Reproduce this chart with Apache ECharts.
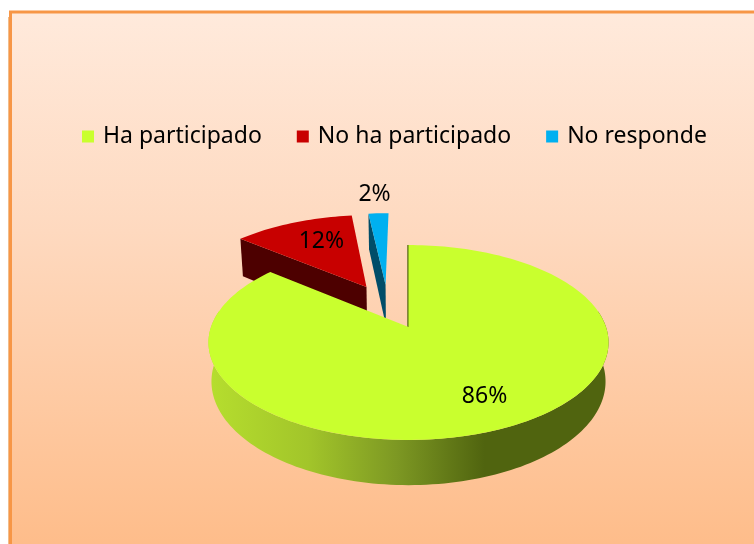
<!DOCTYPE html>
<html>
<head>
<meta charset="utf-8">
<style>html,body{margin:0;padding:0;background:#fff}#c{width:754px;height:544px}</style>
<script src="https://cdn.jsdelivr.net/npm/echarts@6/dist/echarts.min.js"></script>
</head>
<body>
<div id="c"></div>
<script>
var categories = ['Ha participado', 'No ha participado', 'No responde'];
var values = [86, 12, 2];
var labels = ['86%', '12%', '2%'];
var topColors = ['#c9ff2e', '#c80000', '#00b0f0'];
var wallColors = ['#50640f', '#4d0000', '#004d69'];

// Pie layout: a perspective projection of the unit circle onto the page
var VIEW = {cx: 408.5, d: 197.5, a: -43, b: 327, c: 0.159, shrink: 0.985};
var DEPTH = [38, 44, 44];
var EXPLODE = [[0, 0], [-0.228, 0.451], [-0.125, 0.48]];
var LABEL_R = [0.72, 0.68, 1.32];
var LABEL_DX = [8.5, 7, -2];
var FONT = '23px "Noto Sans", sans-serif';

function top3d(u, v) {
  var k = 1 + VIEW.c * v;
  return [VIEW.cx + VIEW.d * u / k, (VIEW.a * v + VIEW.b) / k];
}
function bottomFor(idx) {
  return function (u, v) {
    var k = 1 + VIEW.c * v;
    return [VIEW.cx + VIEW.shrink * VIEW.d * u / k, (VIEW.a * v + VIEW.b + DEPTH[idx]) / k];
  };
}
function rim(fn, idx, deg) {
  var r = deg * Math.PI / 180, e = EXPLODE[idx];
  return fn(e[0] + Math.sin(r), e[1] + Math.cos(r));
}
function total() { return values.reduce(function (s, x) { return s + x; }, 0); }
function startDeg(idx) {
  var s = 0;
  for (var i = 0; i < idx; i++) s += values[i];
  return 360 * s / total();
}
function arcPts(fn, idx, a0, a1) {
  var out = [], n = Math.max(2, Math.ceil(Math.abs(a1 - a0) / 1.5));
  for (var i = 0; i <= n; i++) out.push(rim(fn, idx, a0 + (a1 - a0) * i / n));
  return out;
}
function poly(pts, style) { return {type: 'polygon', shape: {points: pts}, style: style}; }

function makeRender(idx) {
  return function (params, api) {
    var val = api.value(0);
    var a0 = startDeg(idx), a1 = a0 + 360 * val / total();
    var e = EXPLODE[idx];
    var bottom3d = bottomFor(idx);
    var apexT = top3d(e[0], e[1]), apexB = bottom3d(e[0], e[1]);
    var kids = [];
    var wall = wallColors[idx];

    if (idx === 0) {
      // start cut face: seen almost edge-on
      kids.push(poly([apexT, rim(top3d, 0, a0), rim(bottom3d, 0, a0), apexB],
        {fill: wall, stroke: wall, lineWidth: 2.4}));
      // outer curved wall, visible along the front
      var w0 = Math.max(a0, 80), w1 = Math.min(a1, 280);
      var front = arcPts(top3d, 0, w0, w1).concat(arcPts(bottom3d, 0, w1, w0));
      kids.push(poly(front, {
        fill: new echarts.graphic.LinearGradient(0, 0, 1, 0, [
          {offset: 0, color: '#b6de2e'},
          {offset: 0.25, color: '#a2c52a'},
          {offset: 0.47, color: '#7d9823'},
          {offset: 0.69, color: '#50640f'},
          {offset: 1, color: '#50640f'}
        ])
      }));
    } else {
      // left cut face of the pulled-out slice
      kids.push(poly([apexT, rim(top3d, idx, a0), rim(bottom3d, idx, a0), apexB], {fill: wall}));
    }
    var face = [apexT].concat(arcPts(top3d, idx, a0, a1));
    kids.push(poly(face, {fill: topColors[idx]}));

    var mid = (a0 + a1) / 2 * Math.PI / 180, lr = LABEL_R[idx];
    var lp = top3d(e[0] + lr * Math.sin(mid), e[1] + lr * Math.cos(mid));
    kids.push({
      type: 'text', z2: 10,
      style: {text: labels[idx], x: lp[0] + LABEL_DX[idx], y: lp[1], font: FONT, fill: '#000',
              align: 'center', verticalAlign: 'middle'}
    });
    return {type: 'group', children: kids};
  };
}

var chart = echarts.init(document.getElementById('c'), null, {renderer: 'canvas'});
chart.setOption({
  animation: false,
  graphic: [
    {type: 'rect', z: -11, shape: {x: 8, y: 17, width: 2, height: 540}, style: {fill: '#f2bd8a'}},
    {type: 'rect', z: -10, shape: {x: 10.5, y: 12, width: 760, height: 550},
     style: {
       fill: new echarts.graphic.LinearGradient(0, 0, 0, 1, [
         {offset: 0, color: '#ffeadc'},
         {offset: 0.4, color: '#fed9bf'},
         {offset: 1, color: '#febb87'}
       ]),
       stroke: '#f79646', lineWidth: 3
     }}
  ],
  legend: {
    show: true,
    left: 77, top: 120,
    orient: 'horizontal',
    icon: 'rect',
    itemWidth: 12, itemHeight: 12, itemGap: 35,
    selectedMode: false,
    data: categories,
    textStyle: {fontFamily: '"Noto Sans", sans-serif', fontSize: 23, color: '#000', padding: [0, 0, 0, 4]}
  },
  series: categories.map(function (name, i) {
    return {
      type: 'custom',
      name: name,
      coordinateSystem: 'none',
      silent: true,
      z: [5, 2, 3][i],
      itemStyle: {color: topColors[i]},
      data: [[values[i]]],
      renderItem: makeRender(i)
    };
  })
});
</script>
</body>
</html>
